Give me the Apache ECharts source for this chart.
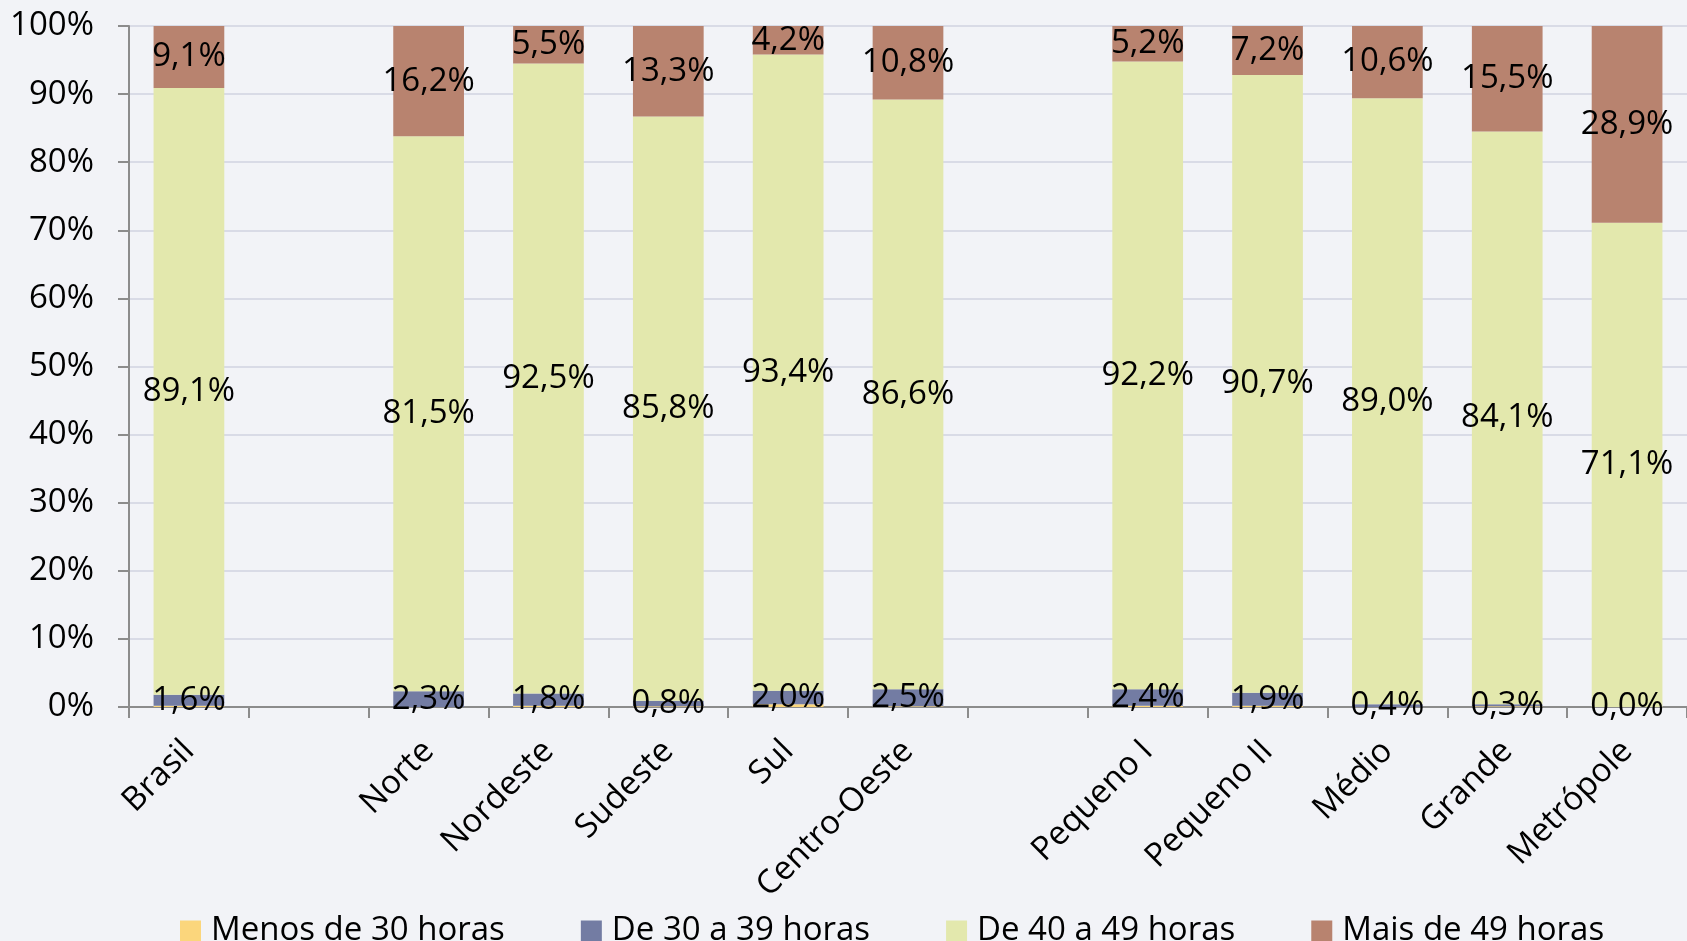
<!DOCTYPE html>
<html>
<head>
<meta charset="utf-8">
<script src="https://cdn.jsdelivr.net/npm/echarts@6/dist/echarts.min.js"></script>
<style>
html,body{margin:0;padding:0;background:#f2f3f7;}
#c{width:1687px;height:941px;}
</style>
</head>
<body>
<div id="c"></div>
<script>
const categories = ['Brasil', '', 'Norte', 'Nordeste', 'Sudeste', 'Sul', 'Centro-Oeste', '', 'Pequeno I', 'Pequeno II', 'Médio', 'Grande', 'Metrópole'];
const seriesNames = ['Menos de 30 horas', 'De 30 a 39 horas', 'De 40 a 49 horas', 'Mais de 49 horas'];
const menos30 = [0.2, null, 0.0, 0.2, 0.1, 0.4, 0.1, null, 0.2, 0.2, 0.0, 0.1, 0.0];
const de30a39 = [1.6, null, 2.3, 1.8, 0.8, 2.0, 2.5, null, 2.4, 1.9, 0.4, 0.3, 0.0];
const de40a49 = [89.1, null, 81.5, 92.5, 85.8, 93.4, 86.6, null, 92.2, 90.7, 89.0, 84.1, 71.1];
const mais49 = [9.1, null, 16.2, 5.5, 13.3, 4.2, 10.8, null, 5.2, 7.2, 10.6, 15.5, 28.9];
const yTicks = [0, 10, 20, 30, 40, 50, 60, 70, 80, 90, 100];

const colors = ['#fbd67c', '#737ca3', '#e3e8ad', '#b8836f'];
const FONT = 'Open Sans';
const FS = 33;
const fmt = p => (p.value == null ? '' : p.value.toFixed(1).replace('.', ',') + '%');

const chart = echarts.init(document.getElementById('c'));
const mk = (name, data, showLabel) => ({
  name, type: 'bar', stack: 'total', data,
  barCategoryGap: '41%',
  label: { show: showLabel, position: 'inside', formatter: fmt, color: '#000', fontFamily: FONT, fontSize: FS },
  emphasis: { disabled: true }
});
chart.setOption({
  backgroundColor: '#f2f3f7',
  color: colors,
  animation: false,
  grid: { left: 129, right: 0, top: 26, bottom: 234, containLabel: false },
  xAxis: {
    type: 'category', data: categories,
    axisLine: { lineStyle: { color: '#8c8c8c', width: 2 } },
    axisTick: { show: true, length: 11, lineStyle: { color: '#8c8c8c', width: 2 } },
    axisLabel: { rotate: 45, interval: 0, margin: 39, color: '#000', fontFamily: FONT, fontSize: FS }
  },
  yAxis: {
    type: 'value', min: yTicks[0], max: yTicks[yTicks.length - 1], interval: 10,
    axisLine: { show: true, lineStyle: { color: '#8c8c8c', width: 2 } },
    axisTick: { show: true, length: 11, lineStyle: { color: '#8c8c8c', width: 2 } },
    splitLine: { lineStyle: { color: '#d9dbe6', width: 2 } },
    axisLabel: { formatter: '{value}%', margin: 35, color: '#000', fontFamily: FONT, fontSize: FS }
  },
  legend: {
    data: seriesNames, left: 175, top: 906, itemWidth: 21, itemHeight: 21, itemGap: 76,
    icon: 'rect',
    textStyle: { color: '#000', fontFamily: FONT, fontSize: FS, padding: [0, 0, 0, 5], lineHeight: 40 }
  },
  series: [
    mk(seriesNames[0], menos30, false),
    mk(seriesNames[1], de30a39, true),
    mk(seriesNames[2], de40a49, true),
    mk(seriesNames[3], mais49, true)
  ]
});
</script>
</body>
</html>
